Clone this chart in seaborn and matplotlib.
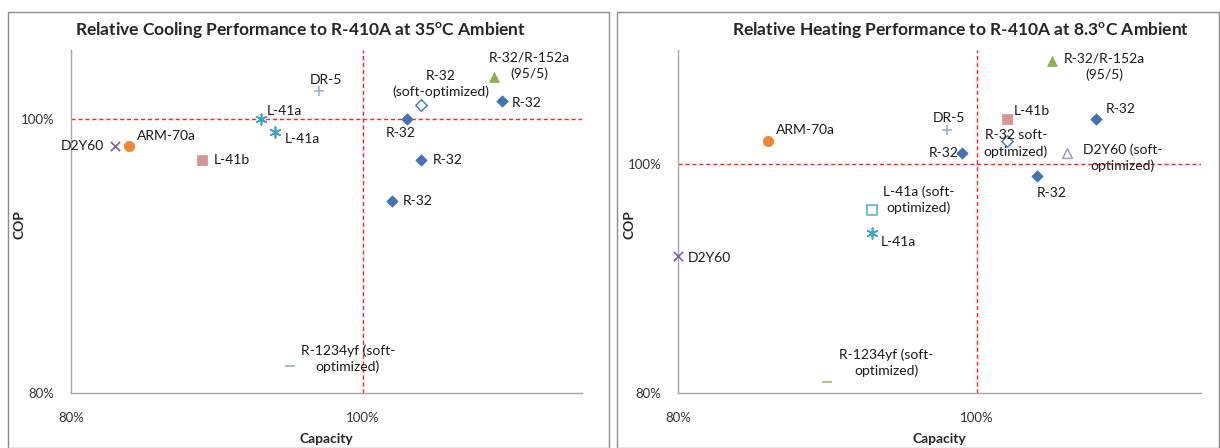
import matplotlib
matplotlib.use("Agg")
import matplotlib.pyplot as plt
from matplotlib.patches import Rectangle
from matplotlib.ticker import FixedLocator, FuncFormatter
import seaborn as sns

# ---------------- data (percent of R-410A) ----------------
cool_kind = ["DR-5", "L-41a", "L-41a", "D2Y60", "ARM-70a", "L-41b", "R-32 soft",
             "R-32", "R-32", "R-32", "R-32", "R-32/R-152a", "R-1234yf"]
cool_label = ["DR-5", "L-41a", "L-41a", "D2Y60", "ARM-70a", "L-41b", "R-32\n(soft-optimized)",
              "R-32", "R-32", "R-32", "R-32", "R-32/R-152a\n(95/5)", "R-1234yf (soft-\noptimized)"]
cool_cap = [97, 93, 94, 83, 84, 89, 104, 103, 109.5, 104, 102, 109, 95]
cool_cop = [102, 100, 99, 98, 98, 97, 101, 100, 101.3, 97, 94, 103, 82]

heat_kind = ["R-32/R-152a", "R-32", "L-41b", "DR-5", "ARM-70a", "R-32 soft", "R-32",
             "D2Y60 soft", "R-32", "L-41a soft", "L-41a", "D2Y60", "R-1234yf"]
heat_label = ["R-32/R-152a\n(95/5)", "R-32", "L-41b", "DR-5", "ARM-70a", "R-32 soft-\noptimized)",
              "R-32", "D2Y60 (soft-\noptimized)", "R-32", "L-41a (soft-\noptimized)", "L-41a",
              "D2Y60", "R-1234yf (soft-\noptimized)"]
heat_cap = [105, 108, 102, 98, 86, 102, 99, 106, 104, 93, 93, 80, 90]
heat_cop = [109, 104, 104, 103, 102, 102, 101, 101, 99, 96, 94, 92, 81]

# label offsets from the marker, in pixels (dx right, dy up)
cool_off = [(7, 11), (24, 8), (27, -7), (-32, 0), (37, 10), (29, 0), (19, 21),
            (-6, -14), (25, -2), (26, 0), (25, 0), (35, 12), (58, 7)]
heat_off = [(53, -5), (24, 10), (25, 8), (2, 12), (38, 11), (9, -2), (-18, 0),
            (56, -5), (15, -17), (46, 10), (26, -9), (31, -2), (59, 19)]

# marker styles per series: marker, colour, open?, size
styles = {
    "R-32": ("D", "#4472B0", False, 34),
    "R-32 soft": ("D", "#4F81BD", True, 34),
    "R-32/R-152a": ("^", "#8DB04E", False, 50),
    "L-41b": ("s", "#D99594", False, 50),
    "ARM-70a": ("o", "#EE8732", False, 55),
    "D2Y60": ("x", "#8064A2", False, 45),
    "D2Y60 soft": ("^", "#A898C4", True, 50),
    "L-41a": ((6, 2, 0), "#3FA4C0", False, 60),
    "L-41a soft": ("s", "#4BACC6", True, 45),
    "DR-5": ("+", "#95B3D7", False, 55),
    "R-1234yf": ("_", "#93AFA2", False, 45),
}

sns.set_style("white")
plt.rcParams["font.family"] = ["Lato", "DejaVu Sans"]
plt.rcParams["mathtext.fontset"] = "custom"
plt.rcParams["mathtext.rm"] = "Lato"
plt.rcParams["mathtext.bf"] = "Lato:bold"

W, H = 1220, 448
fig = plt.figure(figsize=(W / 100, H / 100), dpi=100)

# chart area borders
for x0, x1 in [(8, 609), (617, 1219)]:
    fig.patches.append(Rectangle((x0 / W, 0), (x1 - x0) / W, 1 - 12 / H,
                                 transform=fig.transFigure, fill=False,
                                 edgecolor="#8C8C8C", linewidth=1))


def draw_panel(ax, title, cap, cop, kinds, labels, offsets, ymax, override=None):
    st = dict(styles)
    if override:
        st.update(override)
    for c, p, k, lab, (dx, dy) in zip(cap, cop, kinds, labels, offsets):
        m, col, hollow, s = st[k]
        kw = dict(marker=m, s=s, zorder=3, clip_on=False)
        if hollow:
            kw.update(facecolor="white", edgecolor=col, linewidth=1.1)
        elif m in ("x", "+", "_") or isinstance(m, tuple):
            kw.update(color=col, linewidth=1.2)
        else:
            kw.update(color=col, edgecolor=col)
        sns.scatterplot(x=[c], y=[p], ax=ax, **kw)
        ax.annotate(lab, (c, p), xytext=(dx * 0.72, dy * 0.72), textcoords="offset points",
                    ha="center", va="center", fontsize=10, linespacing=1.35, color="#1a1a1a")

    ax.axvline(100, color="#FF2020", linestyle=(0, (3, 2)), linewidth=1, zorder=2)
    ax.axhline(100, color="#FF2020", linestyle=(0, (3, 2)), linewidth=1, zorder=2)

    ax.set_xlim(80, 115)
    ax.set_ylim(80, ymax)
    ax.xaxis.set_major_locator(FixedLocator(list(range(80, 116, 5))))
    ax.yaxis.set_major_locator(FixedLocator(list(range(80, ymax + 1, 4))))
    fmt = FuncFormatter(lambda v, _: f"{v:.0f}%" if round(v) in (80, 100) else "")
    ax.xaxis.set_major_formatter(fmt)
    ax.yaxis.set_major_formatter(fmt)
    ax.tick_params(direction="in", length=4, color="#A6A6A6", labelsize=9.5,
                   labelcolor="#333333")
    ax.tick_params(axis="x", pad=14)
    ax.tick_params(axis="y", pad=12)
    for side in ("top", "right"):
        ax.spines[side].set_visible(False)
    for side in ("left", "bottom"):
        ax.spines[side].set_color("#A6A6A6")
        ax.spines[side].set_linewidth(1)

    ax.set_xlabel("Capacity", fontsize=10, fontweight="bold", labelpad=6)
    ax.set_ylabel("COP", fontsize=10, fontweight="bold")
    ax.set_title(title, fontsize=12.5, fontweight="bold", pad=10)


ax1 = fig.add_axes([71 / W, 1 - 393 / H, 511 / W, 343 / H])
draw_panel(ax1, "Relative Cooling Performance to R-410A at 35$^\\mathbf{o}$C Ambient",
           cool_cap, cool_cop, cool_kind, cool_label, cool_off, 105)
ax1.title.set_x(0.45)
ax1.yaxis.set_label_coords(-0.09, 0.49)

ax2 = fig.add_axes([678 / W, 1 - 393 / H, 523 / W, 343 / H])
draw_panel(ax2, "Relative Heating Performance to R-410A at 8.3$^\\mathbf{o}$C Ambient",
           heat_cap, heat_cop, heat_kind, heat_label, heat_off, 110,
           override={"R-1234yf": ("_", "#9BBB59", False, 45)})
ax2.title.set_x(0.54)
ax2.yaxis.set_label_coords(-0.082, 0.49)

fig.savefig("out.png", dpi=100)
